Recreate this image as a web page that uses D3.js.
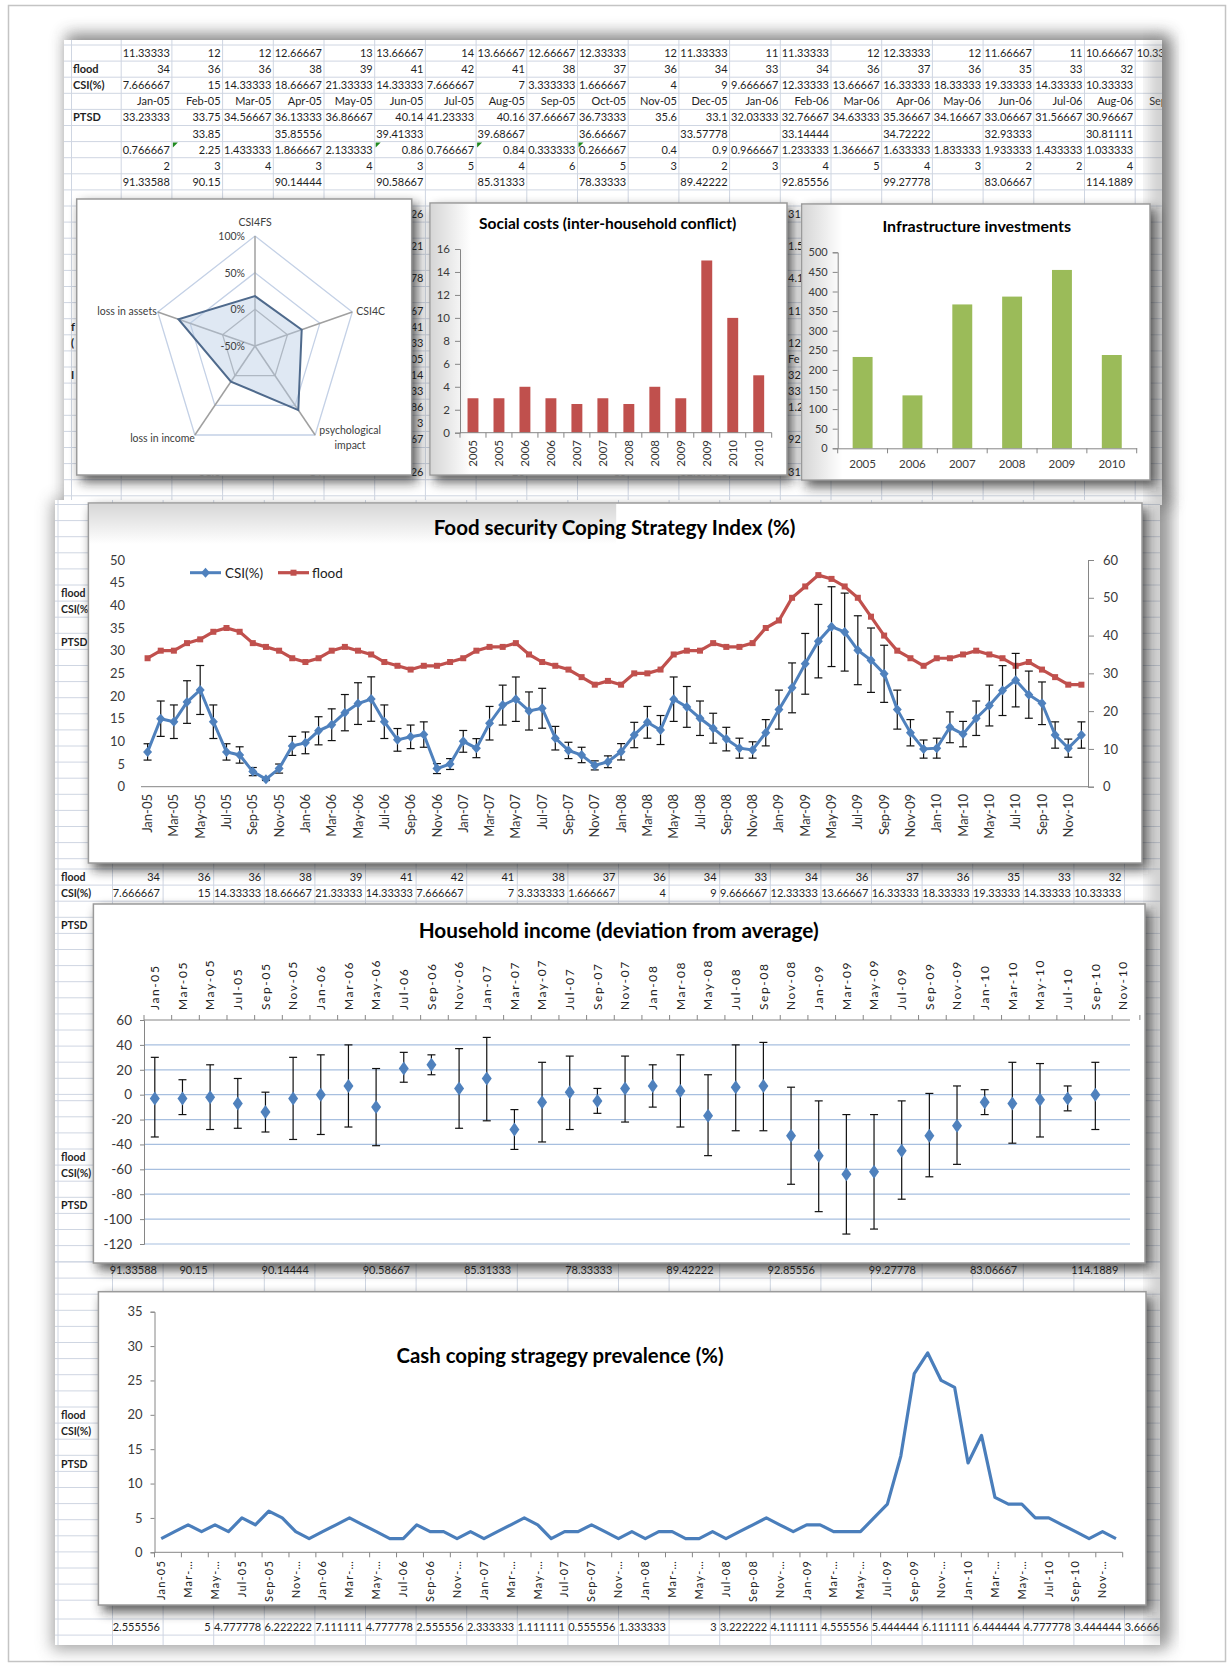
<!DOCTYPE html>
<html>
<head>
<meta charset="utf-8">
<script src="https://d3js.org/d3.v7.min.js"></script>
<style>
  body { margin: 0; background: #ffffff; }
  #page svg { display: block; }
  text { font-family: Lato, "Open Sans", "DejaVu Sans", sans-serif; }
  .cell { font-size: 11px; fill: #1f1f1f; }
  .bold { font-weight: bold; }
  .tick text { fill: #3a3a3a; }
</style>
</head>
<body>
<div id="page"></div>
<script>
// ---------------- spreadsheet text (background) ----------------
const sheetMonths = ["Jan-05","Feb-05","Mar-05","Apr-05","May-05","Jun-05","Jul-05","Aug-05","Sep-05","Oct-05","Nov-05","Dec-05","Jan-06","Feb-06","Mar-06","Apr-06","May-06","Jun-06","Jul-06","Aug-06","Sep-06"];
const sheetRowA = ["11.33333","12","12","12.66667","13","13.66667","14","13.66667","12.66667","12.33333","12","11.33333","11","11.33333","12","12.33333","12","11.66667","11","10.66667","10.33333"];
const sheetFlood = ["34","36","36","38","39","41","42","41","38","37","36","34","33","34","36","37","36","35","33","32"];
const sheetCsi = ["7.666667","15","14.33333","18.66667","21.33333","14.33333","7.666667","7","3.333333","1.666667","4","9","9.666667","12.33333","13.66667","16.33333","18.33333","19.33333","14.33333","10.33333"];
const sheetPtsd = ["33.23333","33.75","34.56667","36.13333","36.86667","40.14","41.23333","40.16","37.66667","36.73333","35.6","33.1","32.03333","32.76667","34.63333","35.36667","34.16667","33.06667","31.56667","30.96667"];
const sheetPtsdAvg = ["","33.85","","35.85556","","39.41333","","39.68667","","36.66667","","33.57778","","33.14444","","34.72222","","32.93333","","30.81111"];
const sheetRowG = ["0.766667","2.25","1.433333","1.866667","2.133333","0.86","0.766667","0.84","0.333333","0.266667","0.4","0.9","0.966667","1.233333","1.366667","1.633333","1.833333","1.933333","1.433333","1.033333"];
const sheetRowH = ["2","3","4","3","4","3","5","4","6","5","3","2","3","4","5","4","3","2","2","4"];
const sheetRowI = ["91.33588","90.15","","90.14444","","90.58667","","85.31333","","78.33333","","89.42222","","92.85556","","99.27778","","83.06667","","114.1889"];
const sheetRowJ = ["2.555556","5","4.777778","6.222222","7.111111","4.777778","2.555556","2.333333","1.111111","0.555556","1.333333","3","3.222222","4.111111","4.555556","5.444444","6.111111","6.444444","4.777778","3.444444","3.666667"];
// fragments peeking out between the small charts
const sheetJunTail = {10:"26",12:"21",14:"78",16:"67",17:"41",18:"33",19:"05",20:"14",21:"33",22:"86",23:"3",24:"67",26:"26"};
const sheetFebTail = {10:"31.",12:"1.5",14:"4.1",16:"11.",18:"12.",19:"Fe",20:"32.",21:"33",22:"1.2",24:"92.",26:"31."};
const sheetRow26 = {1:"31.6",3:"14",7:"20",9:"10",11:"32.07778"};
const rowLabels = ["flood","CSI(%)","PTSD"];

// ---------------- chart data ----------------
const radarAxes = ["CSI4FS","CSI4C","psychological impact","loss in income","loss in assets"];
const radarValues = [18, 22, 58, 10, 68];
const radarTicks = [-50, 0, 50, 100];

const socialYears = ["2005","2005","2006","2006","2007","2007","2008","2008","2009","2009","2010","2010"];
const socialValues = [3, 3, 4, 3, 2.5, 3, 2.5, 4, 3, 15, 10, 5];

const infraYears = ["2005","2006","2007","2008","2009","2010"];
const infraValues = [233, 135, 367, 387, 455, 238];

const monthNames = ["Jan","Feb","Mar","Apr","May","Jun","Jul","Aug","Sep","Oct","Nov","Dec"];
const yearCodes = ["05","06","07","08","09","10"];
const months = yearCodes.flatMap(y => monthNames.map(m => m + "-" + y));

const csiValues = [7.67,15,14.33,18.67,21.33,14.33,7.67,7,3.33,1.67,4,9,
                   9.67,12.33,13.67,16.33,18.33,19.33,14.33,10.33,11,11.5,4,5,
                   10,8.5,14,18,19.3,16.7,17.3,10.7,8,7,4.7,5.5,
                   7.7,11.4,14.2,12.5,19.3,17.6,15.1,12.9,10.5,8.5,8.1,11.9,
                   17,21.8,27.1,32.1,35.3,34.1,30.1,27.9,24.9,17,11.9,8.3,
                   8.5,13.1,11.6,15.1,17.9,21.2,23.5,20.3,18.4,11.4,8.5,11.4];
const csiErrors = [1.8,3.9,3.7,4.7,5.4,3.7,1.8,1.8,0.9,0.3,1,2.1,
                   2.4,3.1,3.5,4,4.6,4.9,3.7,2.5,2.6,2.8,1.1,1.2,
                   2.4,2.1,3.7,4.4,4.9,4.2,4.4,2.6,1.8,1.7,1,1.3,
                   1.8,2.8,3.5,3.2,4.9,4.5,3.8,3.3,2.6,2.2,1.8,2.9,
                   4.3,5.5,6.7,8.1,8.8,8.6,7.6,7.1,6.3,4.3,2.9,2,
                   2.2,3.4,2.8,3.8,4.5,5.5,5.9,5.2,4.7,2.9,2,2.9];
const floodValues = [34,36,36,38,39,41,42,41,38,37,36,34,
                     33,34,36,37,36,35,33,32,31,32,32,33,
                     34,36,37,37,38,35,33,32,31,29,27,28,
                     27,30,30,31,35,36,36,38,37,37,38,42,
                     44,50,53,56,55,53,50,45,40,36,34,32,
                     34,34,35,36,35,34,32,33,31,29,27,27];

const incomeLabels = months.filter((d, i) => i % 2 === 0);
const incomeValues = [-3,-3,-2,-7,-14,-3,0,7,-10,21,24,5,13,-28,-6,2,-5,5,7,3,-17,6,7,-33,-49,-64,-62,-45,-33,-25,-6,-7,-4,-3,0];
const incomeHigh = [30,12,24,13,2,30,32,40,21,34,32,37,46,-12,26,31,5,31,24,32,16,40,42,6,-5,-16,-16,-5,1,7,4,26,25,7,26];
const incomeLow = [-34,-16,-28,-27,-30,-36,-32,-26,-41,10,16,-27,-21,-44,-38,-28,-15,-22,-10,-26,-49,-29,-29,-72,-94,-112,-108,-84,-66,-56,-16,-39,-34,-13,-28];

const cashValues = [2,3,4,3,4,3,5,4,6,5,3,2,
                    3,4,5,4,3,2,2,4,3,3,2,3,
                    2,3,4,5,4,2,3,3,4,3,2,3,
                    2,3,3,2,2,3,2,3,4,5,4,3,
                    4,4,3,3,3,5,7,14,26,29,25,24,
                    13,17,8,7,7,5,5,4,3,2,3,2];
const cashTickLabels = ["Jan-05","Mar-…","May-…","Jul-05","Sep-05","Nov-…",
                        "Jan-06","Mar-…","May-…","Jul-06","Sep-06","Nov-…",
                        "Jan-07","Mar-…","May-…","Jul-07","Sep-07","Nov-…",
                        "Jan-08","Mar-…","May-…","Jul-08","Sep-08","Nov-…",
                        "Jan-09","Mar-…","May-…","Jul-09","Sep-09","Nov-…",
                        "Jan-10","Mar-…","May-…","Jul-10","Sep-10","Nov-…"];

// ---------------- page ----------------
const svg = d3.select("#page").append("svg").attr("width", 1228).attr("height", 1666);
const defs = svg.append("defs");
function blurFilter(id, sd) {
    defs.append("filter").attr("id", id)
        .attr("x", "-30%").attr("y", "-30%").attr("width", "160%").attr("height", "160%")
        .append("feGaussianBlur").attr("stdDeviation", sd);
}
blurFilter("blur8", 8);
blurFilter("blur5", 6);

const grad = defs.append("linearGradient").attr("id", "leftShade").attr("x1", 0).attr("x2", 1).attr("y1", 0).attr("y2", 0);
grad.append("stop").attr("offset", 0).attr("stop-color", "#000").attr("stop-opacity", 0.16);
grad.append("stop").attr("offset", 1).attr("stop-color", "#000").attr("stop-opacity", 0);
const grad2 = defs.append("linearGradient").attr("id", "topShade").attr("x1", 0).attr("x2", 0).attr("y1", 0).attr("y2", 1);
grad2.append("stop").attr("offset", 0).attr("stop-color", "#000").attr("stop-opacity", 0.16);
grad2.append("stop").attr("offset", 1).attr("stop-color", "#000").attr("stop-opacity", 0);

// outer frame
svg.append("rect").attr("x", 8.5).attr("y", 5.5).attr("width", 1217).attr("height", 1656)
    .attr("fill", "#fff").attr("stroke", "#c4c4c4").attr("stroke-width", 1.5);

const GRID = "#cfd6e2";
const rowH = 16.1;

// sheet halos
svg.append("rect").attr("x", 66).attr("y", 34).attr("width", 1104).attr("height", 472)
    .attr("fill", "#404040").attr("opacity", 0.65).attr("filter", "url(#blur8)");
svg.append("rect").attr("x", 52).attr("y", 500).attr("width", 1116).attr("height", 1150)
    .attr("fill", "#505050").attr("opacity", 0.5).attr("filter", "url(#blur8)");

// ---------- top sheet ----------
defs.append("clipPath").attr("id", "clipTop").append("rect").attr("x", 64).attr("y", 40).attr("width", 1098).attr("height", 465);
const sheetTop = svg.append("g").attr("clip-path", "url(#clipTop)");
sheetTop.append("rect").attr("x", 64).attr("y", 40).attr("width", 1098).attr("height", 465).attr("fill", "#fff");
const tCol0 = 121.2, tColW = 50.7, tRow0 = 45;
d3.range(0, 22).forEach(c => sheetTop.append("line").attr("x1", tCol0 + c * tColW).attr("x2", tCol0 + c * tColW)
    .attr("y1", 40).attr("y2", 505).attr("stroke", GRID));
sheetTop.append("line").attr("x1", 71.5).attr("x2", 71.5).attr("y1", 40).attr("y2", 505).attr("stroke", GRID);
d3.range(0, 29).forEach(r => sheetTop.append("line").attr("x1", 64).attr("x2", 1162)
    .attr("y1", tRow0 + r * rowH).attr("y2", tRow0 + r * rowH).attr("stroke", GRID));

function topCell(r, c, txt, cls) {
    sheetTop.append("text").attr("class", "cell " + (cls || ""))
        .attr("x", tCol0 + (c + 1) * tColW - 2).attr("y", tRow0 + r * rowH + 12)
        .attr("text-anchor", "end").text(txt);
}
[sheetRowA, sheetFlood, sheetCsi, sheetMonths, sheetPtsd, sheetPtsdAvg, sheetRowG, sheetRowH, sheetRowI]
    .forEach((row, r) => row.forEach((v, c) => { if (v !== "") topCell(r, c, v); }));
[[1, "flood"], [2, "CSI(%)"], [4, "PTSD"]].forEach(([r, t]) =>
    sheetTop.append("text").attr("class", "cell bold").attr("x", 73).attr("y", tRow0 + r * rowH + 12).text(t));
[[17, "f"], [18, "("], [20, "I"]].forEach(([r, t]) =>
    sheetTop.append("text").attr("class", "cell bold").attr("x", 71).attr("y", tRow0 + r * rowH + 12).text(t));
Object.entries(sheetJunTail).forEach(([r, t]) => topCell(+r, 5, t));
Object.entries(sheetFebTail).forEach(([r, t]) => sheetTop.append("text").attr("class", "cell")
    .attr("x", 788).attr("y", tRow0 + r * rowH + 12).text(t));
Object.entries(sheetRow26).forEach(([c, t]) => topCell(26, +c, t));
// little green error markers
[1, 5, 7, 9].forEach(c => sheetTop.append("path")
    .attr("d", `M${tCol0 + c * tColW + 1},${tRow0 + 6 * rowH + 1}l5,0l-5,5z`).attr("fill", "#1e8a1e"));

// ---------- lower sheet ----------
defs.append("clipPath").attr("id", "clipLow").append("rect").attr("x", 55).attr("y", 500).attr("width", 1105).attr("height", 1145);
const sheetLow = svg.append("g").attr("clip-path", "url(#clipLow)");
sheetLow.append("rect").attr("x", 55).attr("y", 500).attr("width", 1105).attr("height", 1145).attr("fill", "#fff");
const lCol0 = 112.5, lColW = 50.6;
[58].concat(d3.range(0, 22).map(c => lCol0 + c * lColW)).forEach(x =>
    sheetLow.append("line").attr("x1", x).attr("x2", x).attr("y1", 500).attr("y2", 1645).attr("stroke", GRID));
[[500, 866, 585], [866, 1100, 869], [1100, 1262, 1149], [1262, 1380, 1262], [1380, 1604, 1407], [1604, 1645, 1619]]
    .forEach(([a, b, off]) => {
        d3.range(-40, 40).map(k => off + k * rowH).filter(y => y >= a && y < b).forEach(y =>
            sheetLow.append("line").attr("x1", 55).attr("x2", 1160).attr("y1", y).attr("y2", y).attr("stroke", GRID));
    });
function lowCell(y, right, txt) {
    sheetLow.append("text").attr("class", "cell").attr("x", right).attr("y", y)
        .attr("text-anchor", "end").text(txt);
}
sheetFlood.forEach((v, c) => lowCell(881, 160 + c * lColW, v));
sheetCsi.forEach((v, c) => lowCell(897, 160 + c * lColW, v));
sheetRowI.forEach((v, c) => { if (v !== "") lowCell(1274, 157 + c * lColW, v); });
sheetRowJ.forEach((v, c) => lowCell(1631, 160 + c * lColW, v));
[[593, 609, 642], [877, 893, 925], [1157, 1173, 1205], [1415, 1431, 1464]].forEach(ys =>
    ys.forEach((y, i) => sheetLow.append("text").attr("class", "cell bold").style("font-size", "10.5px")
        .attr("x", 61).attr("y", y + 4).text(rowLabels[i])));

// right edge shading of the pasted sheets
svg.append("rect").attr("x", 1150).attr("y", 40).attr("width", 22).attr("height", 1600)
    .attr("fill", "#6a6a6a").attr("opacity", 0.35).attr("filter", "url(#blur8)");

// ---------- chart box helper ----------
function chartBox(x, y, w, h, shadeLeft, shadeTop) {
    svg.append("rect").attr("x", x + 4).attr("y", y + 5).attr("width", w + 2).attr("height", h + 2)
        .attr("fill", "#1a1a1a").attr("opacity", 0.72).attr("filter", "url(#blur5)");
    svg.append("rect").attr("x", x).attr("y", y).attr("width", w).attr("height", h)
        .attr("fill", "#fff").attr("stroke", "#9a9a9a").attr("stroke-width", 1.5);
    if (shadeLeft) svg.append("rect").attr("x", x + 1).attr("y", y + 1).attr("width", shadeLeft).attr("height", h - 2)
        .attr("fill", "url(#leftShade)");
    if (shadeTop) svg.append("rect").attr("x", x + 1).attr("y", y + 1).attr("width", w * 0.5).attr("height", shadeTop)
        .attr("fill", "url(#topShade)");
    return svg.append("g");
}
function styleAxis(g, size) {
    g.selectAll(".domain").attr("stroke", "#868686");
    g.selectAll(".tick line").attr("stroke", "#868686");
    g.selectAll(".tick text").style("font-size", size + "px").style("font-family", "Lato, sans-serif");
}
const plain = d => String(d);   // keep the hyphen-minus used by the original

// ---------- radar ----------
const radar = chartBox(76.7, 199, 335, 276, 0, 0);
const rcx = 255, rcy = 346, rSquash = 0.93;
const rScale = d3.scaleLinear().domain([-50, 100]).range([0, 110]);
const radarPt = (i, v) => {
    const a = i * 2 * Math.PI / radarAxes.length;
    return [rcx + rScale(v) * Math.sin(a) * rSquash, rcy - rScale(v) * Math.cos(a)];
};
[0, 50, 100].forEach(v => radar.append("path")
    .attr("d", "M" + radarAxes.map((d, i) => radarPt(i, v)).join("L") + "Z")
    .attr("fill", "none").attr("stroke", v === 0 ? "#a8a8a8" : "#c4d1e6").attr("stroke-width", 1.3));
radarAxes.forEach((d, i) => radar.append("line")
    .attr("x1", rcx).attr("y1", rcy).attr("x2", radarPt(i, 100)[0]).attr("y2", radarPt(i, 100)[1])
    .attr("stroke", "#a0a0a0").attr("stroke-width", 1.5));
radar.append("path")
    .attr("d", "M" + radarValues.map((v, i) => radarPt(i, v)).join("L") + "Z")
    .attr("fill", "#b9cde5").attr("fill-opacity", 0.45).attr("stroke", "#4f6a8c").attr("stroke-width", 2);
radarTicks.forEach(v => radar.append("text").attr("x", rcx - 10).attr("y", rcy - rScale(v) + 4)
    .attr("text-anchor", "end").style("font-size", "10.5px").attr("fill", "#404040").text(v + "%"));
const rLab = radarAxes.map((d, i) => radarPt(i, 100));
const radarLabelStyle = s => s.style("font-size", "10.5px").attr("fill", "#404040");
radar.append("text").attr("x", rLab[0][0]).attr("y", rLab[0][1] - 10).attr("text-anchor", "middle").call(radarLabelStyle).text(radarAxes[0]);
radar.append("text").attr("x", rLab[1][0] + 4).attr("y", rLab[1][1] + 3).call(radarLabelStyle).text(radarAxes[1]);
const psy = radar.append("text").attr("text-anchor", "middle").call(radarLabelStyle);
psy.append("tspan").attr("x", rLab[2][0] + 35).attr("y", rLab[2][1] - 1).text("psychological");
psy.append("tspan").attr("x", rLab[2][0] + 35).attr("y", rLab[2][1] + 14).text("impact");
radar.append("text").attr("x", rLab[3][0]).attr("y", rLab[3][1] + 7).attr("text-anchor", "end").call(radarLabelStyle).text(radarAxes[3]);
radar.append("text").attr("x", rLab[4][0] - 1).attr("y", rLab[4][1] + 3).attr("text-anchor", "end").call(radarLabelStyle).text(radarAxes[4]);

// ---------- social costs ----------
const soc = chartBox(430, 203, 357, 272, 40, 0);
soc.append("text").attr("x", 607.7).attr("y", 229).attr("text-anchor", "middle")
    .style("font-size", "15.5px").style("font-weight", "bold").text("Social costs (inter-household conflict)");
const xSoc = d3.scaleBand().domain(d3.range(socialValues.length)).range([460, 771.7]).paddingInner(0.58).paddingOuter(0.29);
const ySoc = d3.scaleLinear().domain([0, 16]).range([432.7, 249]);
soc.selectAll("rect.bar").data(socialValues).join("rect").attr("class", "bar")
    .attr("x", (d, i) => xSoc(i)).attr("width", xSoc.bandwidth())
    .attr("y", d => ySoc(d)).attr("height", d => ySoc(0) - ySoc(d)).attr("fill", "#c0504d");
const socY = soc.append("g").attr("transform", "translate(460,0)")
    .call(d3.axisLeft(ySoc).tickValues(d3.range(0, 17, 2)).tickSize(5).tickPadding(5));
styleAxis(socY, 11.5);
soc.append("line").attr("x1", 460).attr("x2", 771.7).attr("y1", 432.7).attr("y2", 432.7).attr("stroke", "#868686");
d3.range(0, socialValues.length + 1).forEach(i => {
    const x = 460 + i * xSoc.step();
    soc.append("line").attr("x1", x).attr("x2", x).attr("y1", 432.7).attr("y2", 437.7).attr("stroke", "#868686");
});
socialYears.forEach((d, i) => soc.append("text")
    .attr("transform", `translate(${xSoc(i) + xSoc.bandwidth() / 2},440) rotate(-90)`)
    .attr("text-anchor", "end").attr("dy", "0.35em").style("font-size", "11.5px").attr("fill", "#333").text(d));

// ---------- infrastructure ----------
const inf = chartBox(801.7, 204, 348.3, 276, 40, 0);
inf.append("text").attr("x", 976.7).attr("y", 232).attr("text-anchor", "middle")
    .style("font-size", "16px").style("font-weight", "bold").text("Infrastructure investments");
const xInf = d3.scaleBand().domain(infraYears).range([837.7, 1136.7]).paddingInner(0.6).paddingOuter(0.3);
const yInf = d3.scaleLinear().domain([0, 500]).range([448.3, 252.3]);
inf.selectAll("rect.bar").data(infraValues).join("rect").attr("class", "bar")
    .attr("x", (d, i) => xInf(infraYears[i])).attr("width", xInf.bandwidth())
    .attr("y", d => yInf(d)).attr("height", d => yInf(0) - yInf(d)).attr("fill", "#9bbb59");
const infY = inf.append("g").attr("transform", "translate(837.7,0)")
    .call(d3.axisLeft(yInf).tickValues(d3.range(0, 501, 50)).tickSize(5).tickPadding(5));
styleAxis(infY, 11);
const infX = inf.append("g").attr("transform", "translate(0,448.3)")
    .call(d3.axisBottom(xInf).tickSize(0).tickPadding(12));
styleAxis(infX, 11.5);
d3.range(0, infraYears.length + 1).forEach(i => {
    const x = 837.7 + i * xInf.step();
    inf.append("line").attr("x1", x).attr("x2", x).attr("y1", 448.3).attr("y2", 453.3).attr("stroke", "#868686");
});

// ---------- food security ----------
const food = chartBox(88.4, 503, 1053.6, 360, 0, 40);
food.append("text").attr("x", 614.6).attr("y", 535).attr("text-anchor", "middle")
    .style("font-size", "20.5px").style("font-weight", "bold").text("Food security Coping Strategy Index (%)");
const xFood = d3.scaleBand().domain(months).range([141, 1088]);
const fx = d => xFood(d) + xFood.bandwidth() / 2;
const yFoodL = d3.scaleLinear().domain([0, 50]).range([786.7, 560]);
const yFoodR = d3.scaleLinear().domain([0, 60]).range([786.7, 560]);
const fL = food.append("g").attr("transform", "translate(141,0)")
    .call(d3.axisLeft(yFoodL).tickValues(d3.range(0, 51, 5)).tickSize(0).tickPadding(16));
fL.select(".domain").remove();
styleAxis(fL, 13);
const fR = food.append("g").attr("transform", "translate(1088,0)")
    .call(d3.axisRight(yFoodR).tickValues(d3.range(0, 61, 10)).tickSize(6).tickPadding(9));
styleAxis(fR, 13);
food.append("line").attr("x1", 141).attr("x2", 1088).attr("y1", 786.7).attr("y2", 786.7).attr("stroke", "#868686");
months.forEach((m, i) => {
    if (i % 2 === 0) food.append("text").attr("transform", `translate(${fx(m)},794) rotate(-90)`)
        .attr("text-anchor", "end").attr("dy", "0.35em").style("font-size", "13px").attr("fill", "#333").text(m);
});
// flood line
food.append("path").datum(floodValues)
    .attr("d", d3.line().x((d, i) => fx(months[i])).y(d => yFoodR(d)))
    .attr("fill", "none").attr("stroke", "#c0504d").attr("stroke-width", 3.2);
food.selectAll("rect.fm").data(floodValues).join("rect").attr("class", "fm")
    .attr("x", (d, i) => fx(months[i]) - 3).attr("y", d => yFoodR(d) - 3)
    .attr("width", 6).attr("height", 6).attr("fill", "#c0504d");
// error bars
csiValues.forEach((v, i) => {
    const x = fx(months[i]), e = csiErrors[i];
    const g = food.append("g").attr("stroke", "#111").attr("stroke-width", 1.2);
    g.append("line").attr("x1", x).attr("x2", x).attr("y1", yFoodL(v - e)).attr("y2", yFoodL(v + e));
    [v - e, v + e].forEach(w => g.append("line").attr("x1", x - 4).attr("x2", x + 4).attr("y1", yFoodL(w)).attr("y2", yFoodL(w)));
});
food.append("path").datum(csiValues)
    .attr("d", d3.line().x((d, i) => fx(months[i])).y(d => yFoodL(d)))
    .attr("fill", "none").attr("stroke", "#4f81bd").attr("stroke-width", 3);
const diamond = "M0,-5L4.5,0L0,5L-4.5,0Z";
food.selectAll("path.cm").data(csiValues).join("path").attr("class", "cm")
    .attr("d", diamond).attr("transform", (d, i) => `translate(${fx(months[i])},${yFoodL(d)})`).attr("fill", "#4f81bd");
// legend
food.append("line").attr("x1", 190).attr("x2", 221).attr("y1", 572.7).attr("y2", 572.7).attr("stroke", "#4f81bd").attr("stroke-width", 3);
food.append("path").attr("d", diamond).attr("transform", "translate(205.5,572.7)").attr("fill", "#4f81bd");
food.append("text").attr("x", 225).attr("y", 577.5).style("font-size", "13.5px").attr("fill", "#222").text("CSI(%)");
food.append("line").attr("x1", 278).attr("x2", 309).attr("y1", 572.7).attr("y2", 572.7).attr("stroke", "#c0504d").attr("stroke-width", 3.2);
food.append("rect").attr("x", 290.5).attr("y", 569.7).attr("width", 6).attr("height", 6).attr("fill", "#c0504d");
food.append("text").attr("x", 312).attr("y", 577.5).style("font-size", "13.5px").attr("fill", "#222").text("flood");

// ---------- household income ----------
const inc = chartBox(93.4, 904, 1051.6, 359, 0, 0);
inc.append("text").attr("x", 618.7).attr("y", 938).attr("text-anchor", "middle")
    .attr("textLength", 400).attr("lengthAdjust", "spacingAndGlyphs")
    .style("font-size", "21px").style("font-weight", "bold").text("Household income (deviation from average)");
const xInc = d3.scalePoint().domain(incomeLabels).range([154.8, 1123]);
const yInc = d3.scaleLinear().domain([-120, 60]).range([1244, 1020]);
d3.range(-120, 60, 20).forEach(v => inc.append("line").attr("x1", 144).attr("x2", 1130)
    .attr("y1", yInc(v)).attr("y2", yInc(v)).attr("stroke", "#a7bfdf").attr("stroke-width", 1.2));
inc.append("line").attr("x1", 144).attr("x2", 1130).attr("y1", yInc(60)).attr("y2", yInc(60)).attr("stroke", "#868686");
const iY = inc.append("g").attr("transform", "translate(144,0)")
    .call(d3.axisLeft(yInc).tickValues(d3.range(-120, 61, 20)).tickFormat(plain).tickSize(4).tickPadding(8));
styleAxis(iY, 13.5);
incomeLabels.forEach((m, i) => {
    inc.append("text").attr("transform", `translate(${xInc(m)},1010) rotate(-90)`)
        .attr("dy", "0.35em").style("font-size", "12px").style("letter-spacing", "1.6px").attr("fill", "#222").text(m);
});
d3.range(0, incomeLabels.length + 1).forEach(i => {
    const x = 144 + i * xInc.step();
    inc.append("line").attr("x1", x).attr("x2", x).attr("y1", 1020).attr("y2", 1015).attr("stroke", "#868686");
});
incomeValues.forEach((v, i) => {
    const x = xInc(incomeLabels[i]);
    const g = inc.append("g").attr("stroke", "#111").attr("stroke-width", 1.2);
    g.append("line").attr("x1", x).attr("x2", x).attr("y1", yInc(incomeLow[i])).attr("y2", yInc(incomeHigh[i]));
    [incomeLow[i], incomeHigh[i]].forEach(w => g.append("line").attr("x1", x - 4).attr("x2", x + 4).attr("y1", yInc(w)).attr("y2", yInc(w)));
    inc.append("path").attr("d", "M0,-7L5,0L0,7L-5,0Z").attr("transform", `translate(${x},${yInc(v)})`).attr("fill", "#4f81bd");
});

// ---------- cash coping ----------
const cash = chartBox(98.4, 1291.7, 1047.6, 313.3, 0, 0);
cash.append("text").attr("x", 560).attr("y", 1363).attr("text-anchor", "middle")
    .attr("textLength", 327).attr("lengthAdjust", "spacingAndGlyphs")
    .style("font-size", "20px").style("font-weight", "bold").text("Cash coping stragegy prevalence (%)");
const xCash = d3.scaleBand().domain(months).range([154.5, 1122.7]);
const cashX = d => xCash(d) + xCash.bandwidth() / 2;
const yCash = d3.scaleLinear().domain([0, 35]).range([1552.3, 1311.7]);
const cY = cash.append("g").attr("transform", "translate(154.5,0)")
    .call(d3.axisLeft(yCash).tickValues(d3.range(0, 36, 5)).tickSize(4).tickPadding(8));
styleAxis(cY, 13);
cash.append("line").attr("x1", 154.5).attr("x2", 1122.7).attr("y1", 1552.3).attr("y2", 1552.3).attr("stroke", "#868686");
d3.range(0, 37).forEach(k => {
    const x = 154.5 + k * 2 * xCash.step();
    cash.append("line").attr("x1", x).attr("x2", x).attr("y1", 1552.3).attr("y2", 1557.3).attr("stroke", "#868686");
});
cashTickLabels.forEach((t, k) => cash.append("text")
    .attr("transform", `translate(${cashX(months[k * 2])},1560) rotate(-90)`)
    .attr("text-anchor", "end").attr("dy", "0.35em").style("font-size", "11px").style("letter-spacing", "1.2px")
    .attr("fill", "#222").text(t));
cash.append("path").datum(cashValues)
    .attr("d", d3.line().x((d, i) => cashX(months[i])).y(d => yCash(d)))
    .attr("fill", "none").attr("stroke", "#4a7ebb").attr("stroke-width", 3.2).attr("stroke-linejoin", "round");
</script>
</body>
</html>
